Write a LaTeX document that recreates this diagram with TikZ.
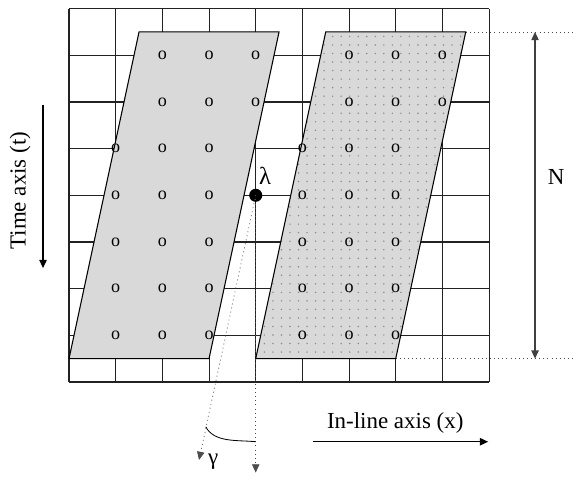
\documentclass[tikz,border=0pt]{standalone}
\usepackage{fontspec}
\setmainfont{Liberation Serif}
\usetikzlibrary{arrows.meta, positioning, calc, patterns}
\definecolor{panelgray}{HTML}{D9D9D9}
\definecolor{dotgray}{HTML}{8C8C8C}
\definecolor{gridline}{HTML}{222222}

\pgfdeclarepatternformonly{graydots}{\pgfpoint{-1pt}{-1pt}}{\pgfpoint{1pt}{1pt}}{\pgfpoint{5.2pt}{5.2pt}}%
  {\pgfpathcircle{\pgfpointorigin}{0.5pt}\pgfusepath{fill}}

\tikzset{
  sample/.style={font=\fontsize{11}{12}\selectfont, inner sep=0pt},
  axislabel/.style={font=\fontsize{14}{16}\selectfont, inner sep=1pt},
  axisarrow/.style={-{Triangle[length=5pt,width=4.5pt]}, line width=0.7pt},
  guide/.style={dotted, line width=0.5pt, black!70},
}

\begin{document}
\begin{tikzpicture}
  \useasboundingbox (-1.479,-2.10) rectangle (10.82,8.185);
  \draw[gridline, line width=0.65pt] (0,0) grid (9,8);

  % trace sections
  \coordinate (la) at (0,0.5);   \coordinate (lb) at (3,0.5);
  \coordinate (lc) at (4.5,7.5); \coordinate (ld) at (1.5,7.5);
  \coordinate (ra) at (4,0.5);   \coordinate (rb) at (7,0.5);
  \coordinate (rc) at (8.5,7.5); \coordinate (rd) at (5.5,7.5);
  \filldraw[fill=panelgray, line width=0.65pt] (la) -- (lb) -- (lc) -- (ld) -- cycle;
  \fill[panelgray] (ra) -- (rb) -- (rc) -- (rd) -- cycle;
  \fill[pattern=graydots, pattern color=dotgray] (ra) -- (rb) -- (rc) -- (rd) -- cycle;
  \draw[line width=0.65pt] (ra) -- (rb) -- (rc) -- (rd) -- cycle;

  % samples
  \foreach \y in {6,7} {
    \foreach \x in {2,3,4} \node[sample] (l-\x-\y) at (\x,\y) {o};
    \foreach \x in {6,7,8} \node[sample] (r-\x-\y) at (\x,\y) {o};
  }
  \foreach \y in {1,...,5} {
    \foreach \x in {1,2,3} \node[sample] (l-\x-\y) at (\x,\y) {o};
    \foreach \x in {5,6,7} \node[sample] (r-\x-\y) at (\x,\y) {o};
  }

  % lambda and dip angle
  \coordinate (lam) at (4,4);
  \fill (lam) circle (0.14);
  \node[axislabel, font=\fontsize{15}{17}\selectfont] (lamlabel) at (4.2,4.42) {λ};
  \coordinate (dipend) at (2.785,-1.67);
  \coordinate (vertend) at (4,-1.94);
  \draw[guide, -{Triangle[length=5pt,width=4.5pt]}] (lam) -- (dipend);
  \draw[guide, -{Triangle[length=5pt,width=4.5pt]}] (lam) -- (vertend);
  \coordinate (arcA) at (2.93,-0.96);
  \coordinate (arcB) at (4,-1.28);
  \draw[line width=0.5pt] (arcA) to[out=-62,in=174, looseness=0.9] (arcB);
  \node[axislabel] (gamma) at (3.09,-1.71) {γ};

  % axes
  \coordinate (xstart) at (5.23,-1.28);
  \coordinate (xend) at (8.98,-1.28);
  \draw[axisarrow] (xstart) -- (xend);
  \node[axislabel] (xlabel) at (6.99,-0.88) {In-line axis (x)};
  \coordinate (tstart) at (-0.557,5.94);
  \coordinate (tend) at (-0.557,2.44);
  \draw[axisarrow] (tstart) -- (tend);
  \node[axislabel, rotate=90] (tlabel) at (-1.05,4.10) {Time axis (t)};

  % window length
  \coordinate (ntop) at (9.985,7.5);
  \coordinate (nbot) at (9.985,0.5);
  \coordinate (rimtop) at (10.82,7.5);
  \coordinate (rimbot) at (10.82,0.5);
  \draw[guide] (rc) -- (rimtop);
  \draw[guide] (rb) -- (rimbot);
  \draw[{Triangle[length=5pt,width=4.5pt]}-{Triangle[length=5pt,width=4.5pt]}, line width=0.7pt, black!75] (ntop) -- (nbot);
  \node[axislabel] (nlabel) at (10.44,4.40) {N};
\end{tikzpicture}
\end{document}
